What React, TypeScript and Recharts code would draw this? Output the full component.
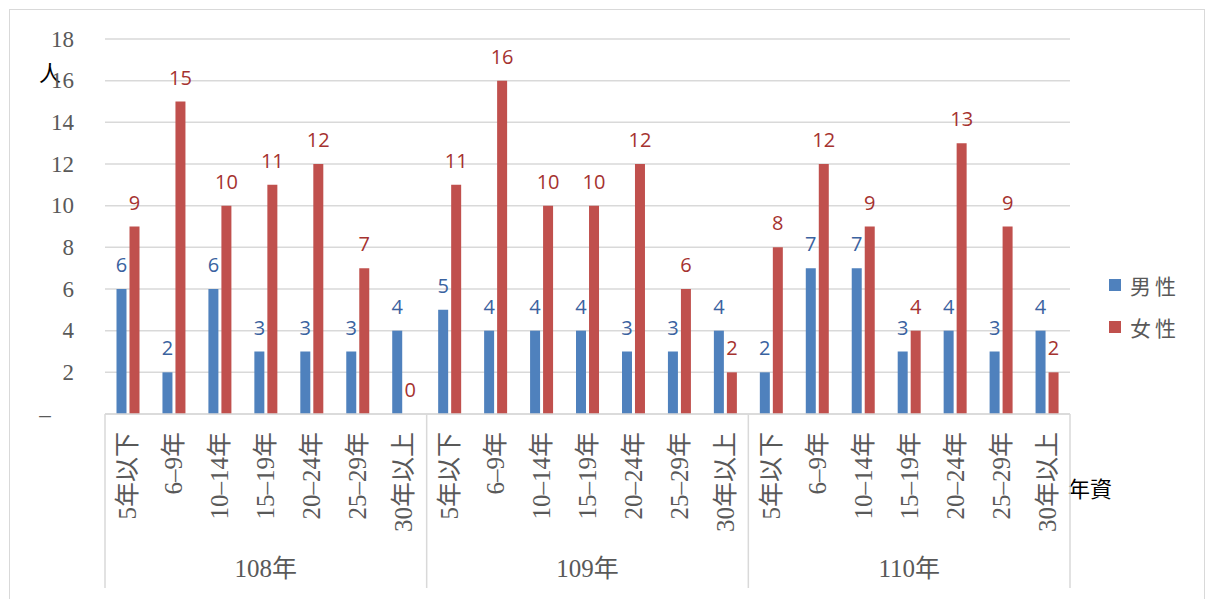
import React from 'react'
import { BarChart, Bar, XAxis, YAxis, CartesianGrid, LabelList, Legend } from 'recharts'

const years = ['108年', '109年', '110年']
const tenures = ['5年以下', '6–9年', '10–14年', '15–19年', '20–24年', '25–29年', '30年以上']
const maleCounts = [6, 2, 6, 3, 3, 3, 4, 5, 4, 4, 4, 3, 3, 4, 2, 7, 7, 3, 4, 3, 4]
const femaleCounts = [9, 15, 10, 11, 12, 7, 0, 11, 16, 10, 10, 12, 6, 2, 8, 12, 9, 4, 13, 9, 2]
const yTicks = [0, 2, 4, 6, 8, 10, 12, 14, 16, 18]
const seriesOrder = ['male', 'female']

const data = years.flatMap((year, yi) =>
  tenures.map((tenure, ti) => {
    const i = yi * tenures.length + ti
    return { id: `${year}-${tenure}`, year, tenure, male: maleCounts[i], female: femaleCounts[i] }
  })
)

const W = 1206
const H = 599
const PLOT_LEFT = 105
const PLOT_RIGHT = 1070
const PLOT_TOP = 39
const PLOT_BOTTOM = 414
const LEGEND_W = 90
const BAND = (PLOT_RIGHT - PLOT_LEFT) / data.length

const SERIF = "'Liberation Serif', 'Noto Sans CJK TC', serif"
const GRAY = '#595959'
const LINE = '#d9d9d9'

function XTick(props: any) {
  const { x, y, index } = props
  const row = data[index]
  const n = tenures.length
  return (
    <g>
      <text
        transform={`translate(${x}, ${y + 18}) rotate(-90)`}
        textAnchor="end"
        dominantBaseline="central"
        fontFamily={SERIF}
        fontSize={25}
        fill={GRAY}
      >
        {row.tenure}
      </text>
      {index % n === Math.floor(n / 2) && (
        <text x={x} y={568} textAnchor="middle" dominantBaseline="central" fontFamily={SERIF} fontSize={25} fill={GRAY}>
          {row.year}
        </text>
      )}
      {index % n === 0 && <line x1={x - BAND / 2} x2={x - BAND / 2} y1={PLOT_BOTTOM} y2={588} stroke={LINE} strokeWidth={1.5} />}
      {index === data.length - 1 && <line x1={x + BAND / 2} x2={x + BAND / 2} y1={PLOT_BOTTOM} y2={588} stroke={LINE} strokeWidth={1.5} />}
    </g>
  )
}

function YTick(props: any) {
  const { y, payload } = props
  if (payload.value === 0) {
    return (
      <text x={45} y={y} textAnchor="middle" dominantBaseline="central" fontFamily={SERIF} fontSize={23} fill={GRAY}>
        –
      </text>
    )
  }
  return (
    <text x={74} y={y} textAnchor="end" dominantBaseline="central" fontFamily={SERIF} fontSize={23} fill={GRAY}>
      {payload.value}
    </text>
  )
}

function LegendBox(props: any) {
  const items = [...(props.payload || [])].sort(
    (a: any, b: any) => seriesOrder.indexOf(a.dataKey) - seriesOrder.indexOf(b.dataKey)
  )
  return (
    <div>
      {items.map((p: any) => (
        <div key={p.value} style={{ display: 'flex', alignItems: 'center', height: 42 }}>
          <span style={{ width: 12, height: 12, background: p.color, display: 'inline-block', marginRight: 9 }} />
          <span style={{ fontFamily: "'Noto Sans CJK TC', sans-serif", fontSize: 21, color: GRAY, letterSpacing: 4 }}>
            {p.value}
          </span>
        </div>
      ))}
    </div>
  )
}

export default function App() {
  return (
    <div style={{ position: 'absolute', left: 0, top: 0, width: W, height: H, overflow: 'hidden', background: '#fff' }}>
      <div
        style={{
          position: 'absolute',
          left: 9,
          top: 9,
          width: 1196,
          height: 620,
          border: `1.5px solid ${LINE}`,
          boxSizing: 'border-box',
        }}
      />
      <BarChart
        width={W}
        height={H}
        data={data}
        margin={{ top: PLOT_TOP, right: W - PLOT_RIGHT - LEGEND_W, left: 0, bottom: 0 }}
        barCategoryGap={11.5}
        barGap={3}
      >
        <CartesianGrid vertical={false} stroke={LINE} strokeWidth={1.5} />
        <XAxis
          dataKey="id"
          interval={0}
          tick={<XTick />}
          tickLine={false}
          tickSize={0}
          tickMargin={0}
          axisLine={{ stroke: LINE, strokeWidth: 1.5 }}
          height={H - PLOT_BOTTOM}
        />
        <YAxis
          domain={[0, 18]}
          ticks={yTicks}
          width={PLOT_LEFT}
          tick={<YTick />}
          tickLine={false}
          axisLine={false}
        />
        <Legend
          layout="vertical"
          verticalAlign="top"
          align="right"
          content={<LegendBox />}
          wrapperStyle={{ position: 'absolute', left: 1109, top: 264, width: LEGEND_W }}
        />
        <Bar dataKey="male" name="男性" fill="#4f81bd" isAnimationActive={false}>
          <LabelList dataKey="male" position="top" offset={17} fill="#3a62a0" fontFamily="'Open Sans', sans-serif" fontSize={20} />
        </Bar>
        <Bar dataKey="female" name="女性" fill="#c0504d" minPointSize={0.01} isAnimationActive={false}>
          <LabelList dataKey="female" position="top" offset={17} fill="#a5322f" fontFamily="'Open Sans', sans-serif" fontSize={20} />
        </Bar>
        <text x={50} y={71} textAnchor="middle" dominantBaseline="central" fontFamily="'Noto Sans CJK TC', serif" fontSize={22} fill="#000">
          人
        </text>
        <text x={1068} y={487} dominantBaseline="central" fontFamily="'Noto Sans CJK TC', serif" fontSize={22} fill="#000">
          年資
        </text>
      </BarChart>
    </div>
  )
}
